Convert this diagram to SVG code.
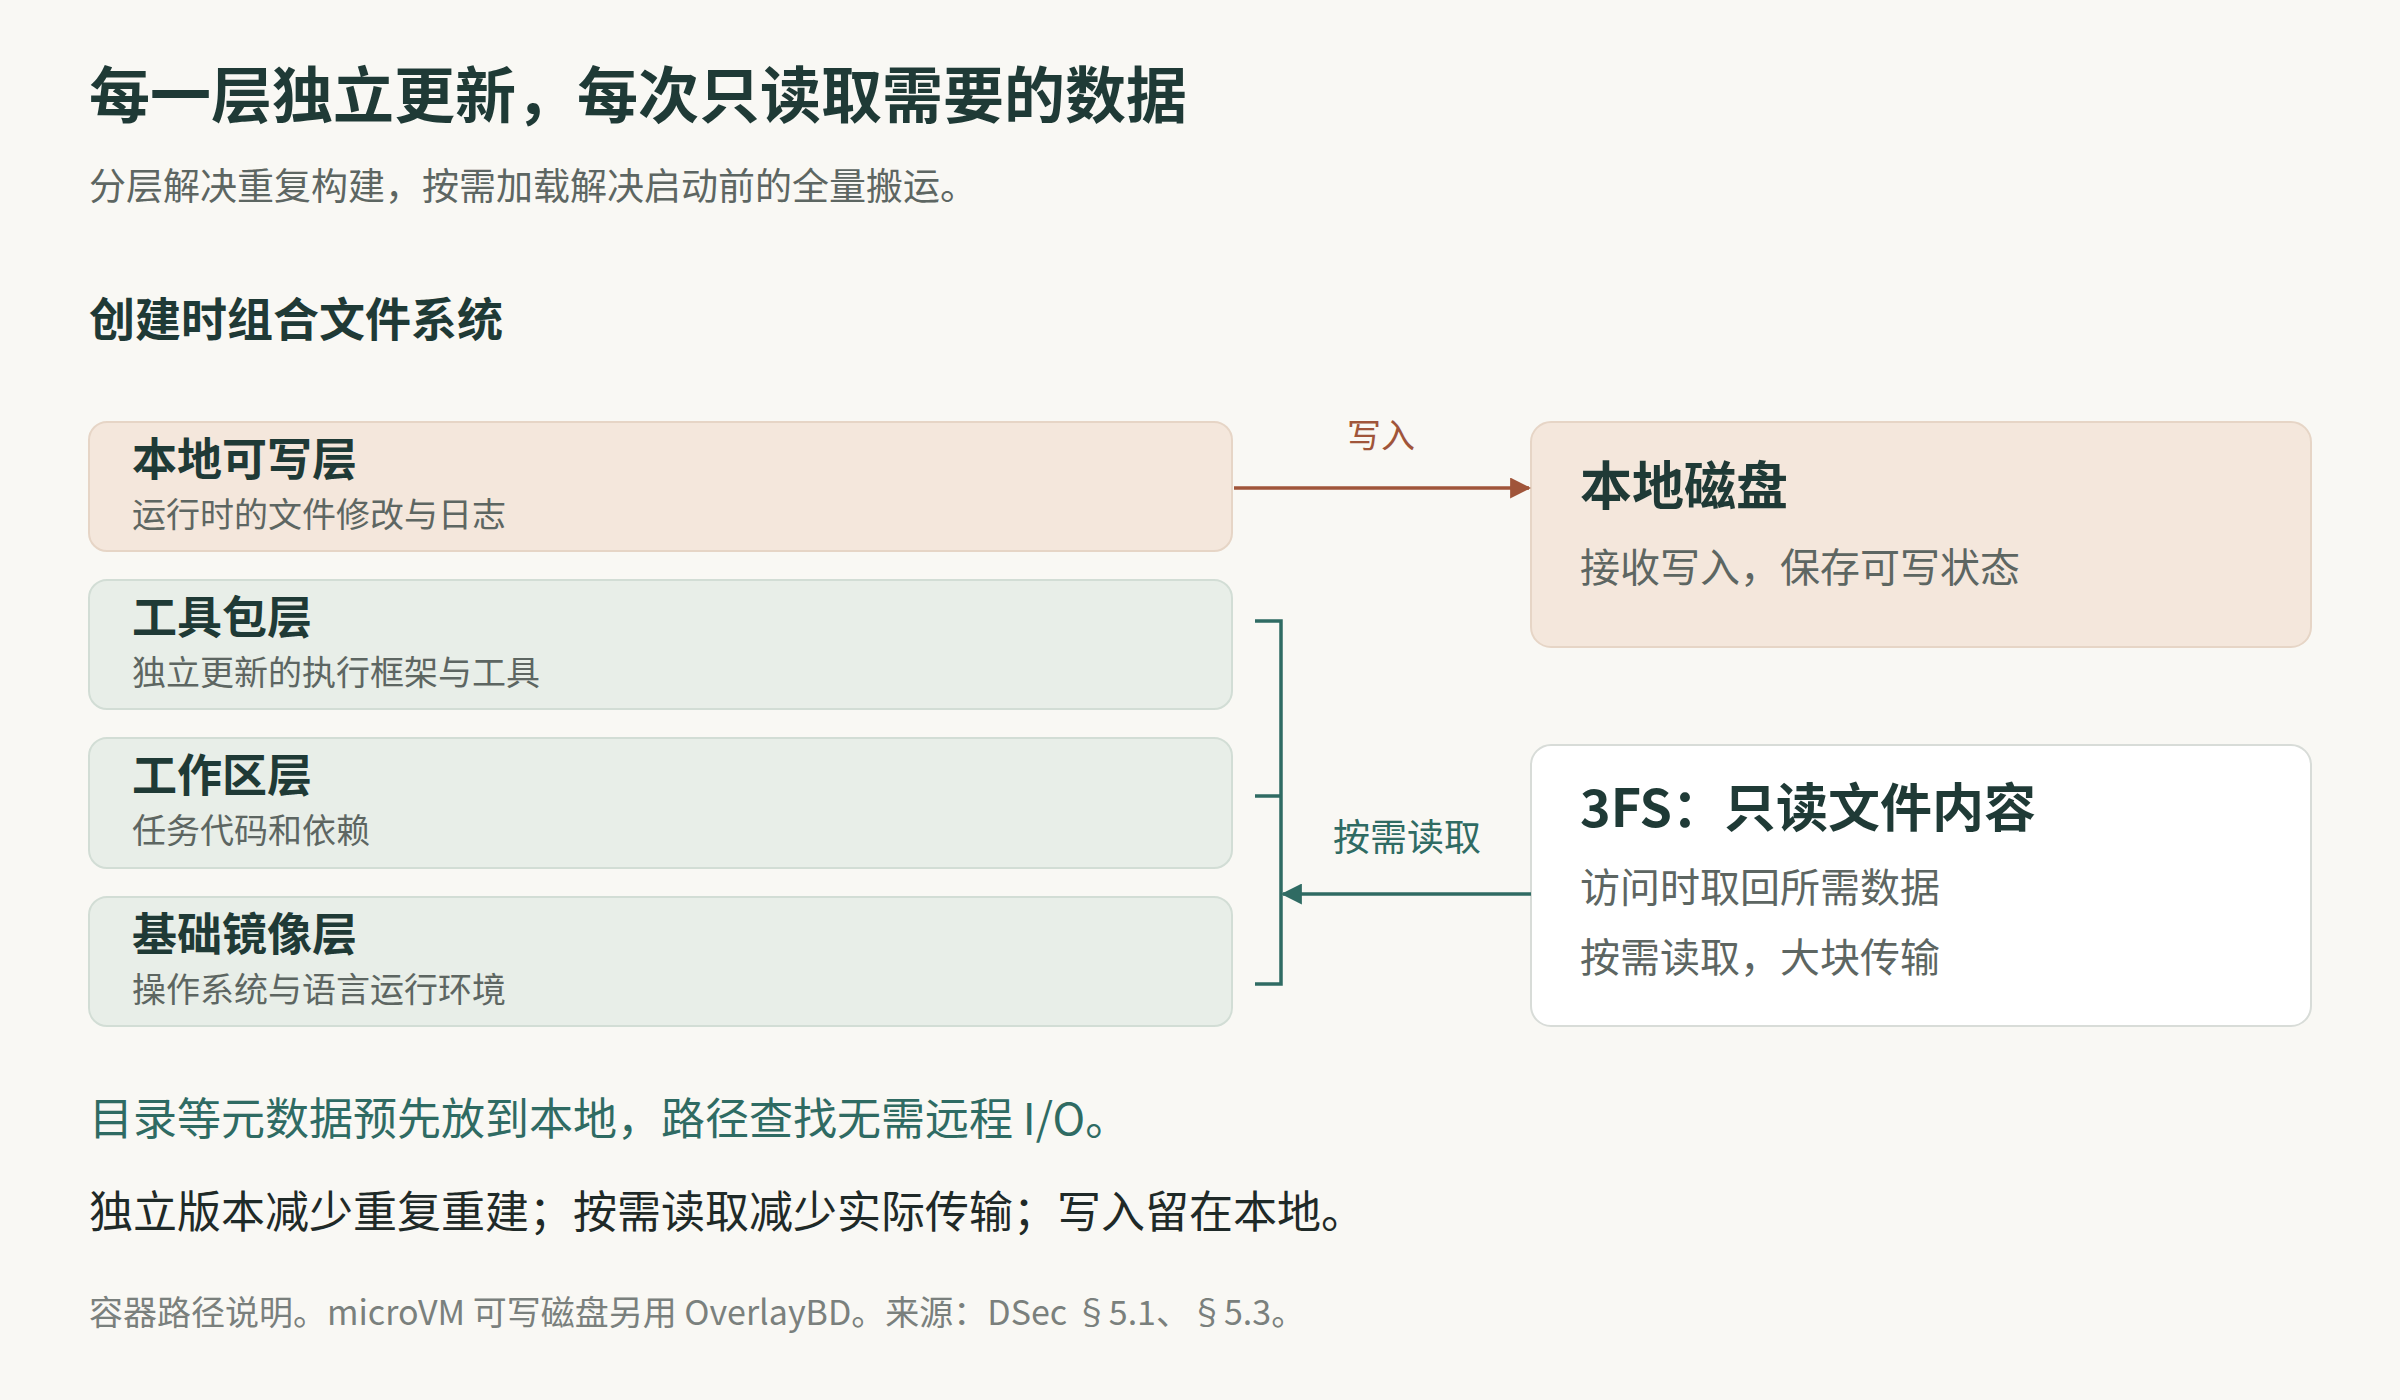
<svg xmlns="http://www.w3.org/2000/svg" width="2400" height="1400" viewBox="0 0 2400 1400">
<style>
text{font-family:"Noto Sans CJK SC","Noto Sans",sans-serif}
.t{fill:#1f3a36;font-weight:700}
.s{fill:#5d6662}
.warm{fill:#f4e7dc;stroke:#e6d5c6;stroke-width:2}
.green{fill:#e8eee8;stroke:#d2ddd5;stroke-width:2}
</style>
<defs>
<marker id="ar" viewBox="0 0 10 10" refX="9" refY="5" markerWidth="6" markerHeight="6" orient="auto" markerUnits="strokeWidth"><path d="M0,0L10,5L0,10z" fill="#a0553a"/></marker>
<marker id="ag" viewBox="0 0 10 10" refX="9" refY="5" markerWidth="6" markerHeight="6" orient="auto" markerUnits="strokeWidth"><path d="M0,0L10,5L0,10z" fill="#2f6b63"/></marker>
</defs>
<rect width="2400" height="1400" fill="#f9f8f4"/>
<text x="89" y="118" font-size="61" class="t">每一层独立更新，每次只读取需要的数据</text>
<text x="89" y="200" font-size="37" class="s">分层解决重复构建，按需加载解决启动前的全量搬运。</text>
<text x="89" y="336" font-size="46" class="t">创建时组合文件系统</text>
<g id="layer-rw"><rect x="89" y="422" width="1143" height="129" rx="18" class="warm"/><text x="132" y="476" font-size="45" class="t">本地可写层</text><text x="132" y="527" font-size="34" class="s">运行时的文件修改与日志</text></g>
<g id="layer-tools"><rect x="89" y="580" width="1143" height="129" rx="18" class="green"/><text x="132" y="634" font-size="45" class="t">工具包层</text><text x="132" y="685" font-size="34" class="s">独立更新的执行框架与工具</text></g>
<g id="layer-work"><rect x="89" y="738" width="1143" height="130" rx="18" class="green"/><text x="132" y="792" font-size="45" class="t">工作区层</text><text x="132" y="843" font-size="34" class="s">任务代码和依赖</text></g>
<g id="layer-base"><rect x="89" y="897" width="1143" height="129" rx="18" class="green"/><text x="132" y="951" font-size="45" class="t">基础镜像层</text><text x="132" y="1002" font-size="34" class="s">操作系统与语言运行环境</text></g>
<g id="disk"><rect x="1531" y="422" width="780" height="225" rx="20" class="warm"/><text x="1580" y="505" font-size="52" class="t">本地磁盘</text><text x="1580" y="582" font-size="40" class="s">接收写入，保存可写状态</text></g>
<g id="fs3"><rect x="1531" y="745" width="780" height="281" rx="20" fill="#fff" stroke="#d8dcd8" stroke-width="2"/><text x="1580" y="827" font-size="52" class="t">3FS：只读文件内容</text><text x="1580" y="902" font-size="40" class="s">访问时取回所需数据</text><text x="1580" y="972" font-size="40" class="s">按需读取，大块传输</text></g>
<g id="connectors">
<line x1="1234" y1="488" x2="1529" y2="488" stroke="#a0553a" stroke-width="3.5" marker-end="url(#ar)"/>
<text x="1381" y="448" font-size="34" fill="#a0553a" text-anchor="middle">写入</text>
<path d="M1255,621H1281V984H1255M1255,796H1281" fill="none" stroke="#2f6b63" stroke-width="3.5"/>
<line x1="1531" y1="894" x2="1283" y2="894" stroke="#2f6b63" stroke-width="3.5" marker-end="url(#ag)"/>
<text x="1407" y="851" font-size="37" fill="#2f6b63" text-anchor="middle">按需读取</text>
</g>
<text x="89" y="1135" font-size="44" fill="#2f6b63">目录等元数据预先放到本地，路径查找无需远程 I/O。</text>
<text x="89" y="1228" font-size="44" fill="#1f2a28">独立版本减少重复重建；按需读取减少实际传输；写入留在本地。</text>
<text x="89" y="1325" font-size="34" fill="#7a807d">容器路径说明。microVM 可写磁盘另用 OverlayBD。来源：DSec §5.1、§5.3。</text>
</svg>
